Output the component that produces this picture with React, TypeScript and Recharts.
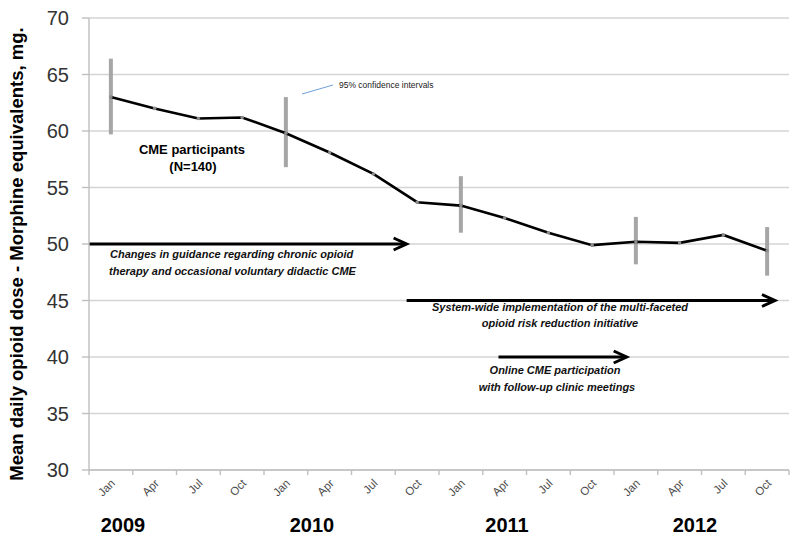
import {
  CartesianGrid,
  ErrorBar,
  Line,
  LineChart,
  ReferenceLine,
  XAxis,
  YAxis,
} from 'recharts'

const monthLabels = ['Jan', 'Apr', 'Jul', 'Oct']
const years = ['2009', '2010', '2011', '2012']
const meanDose = [
  63.0, 62.0, 61.1, 61.2, 59.8, 58.1, 56.2, 53.7, 53.4, 52.3, 51.0, 49.9,
  50.2, 50.1, 50.8, 49.4,
]
// 95% confidence interval bounds, only shown for some quarters
const ciLow = [
  59.7, null, null, null, 56.8, null, null, null, 51.0, null, null, null,
  48.2, null, null, 47.2,
]
const ciHigh = [
  66.4, null, null, null, 63.0, null, null, null, 56.0, null, null, null,
  52.4, null, null, 51.5,
]
const yTicks = [30, 35, 40, 45, 50, 55, 60, 65, 70]

// intervention phases drawn as arrows: start / end on the quarter axis, level in mg
const phaseFrom = [0, 7.26, 9.36]
const phaseTo = [7.26, 15.68, 12.29]
const phaseLevel = [50, 45, 40]

const FONT = '"Liberation Sans", Arial, sans-serif'
const W = 800
const H = 542
const LEFT = 89
const RIGHT = 11
const TOP = 18
const BOTTOM = 72
const BAND = (W - LEFT - RIGHT) / meanDose.length

const data = meanDose.map((dose, i) => ({
  pos: i + 0.5,
  label: `${monthLabels[i % 4]} ${years[Math.floor(i / 4)]}`,
  dose,
  ci:
    ciLow[i] != null && ciHigh[i] != null
      ? [dose - (ciLow[i] as number), (ciHigh[i] as number) - dose]
      : null,
}))

const xTicks = Array.from({ length: meanDose.length + 1 }, (_, i) => i)

function MonthTick({ x, y, payload }: any) {
  const v = payload.value
  if (v >= meanDose.length) return null
  const ax = x + BAND / 2 + 5
  const ay = y + 7
  return (
    <g transform={`translate(${ax} ${ay})`}>
      <text
        x={0}
        y={0}
        transform="rotate(-45)"
        textAnchor="end"
        fontSize={11.5}
        fontFamily={FONT}
        fill="#4d4d4d"
      >
        {monthLabels[v % 4]}
      </text>
    </g>
  )
}

function Arrow({ x1, y1, x2, y2 }: any) {
  return (
    <g>
      <line x1={x1} y1={y1} x2={x2 - 2} y2={y2} stroke="#000" strokeWidth={3} />
      <polyline
        points={`${x2 - 13},${y2 - 6} ${x2},${y2} ${x2 - 13},${y2 + 6}`}
        fill="none"
        stroke="#000"
        strokeWidth={3}
        strokeLinejoin="miter"
      />
    </g>
  )
}

const yearX = [123, 312, 507, 695]

export default function App() {
  const note = {
    fontFamily: FONT,
    fontSize: 11,
    fontWeight: 700,
    fontStyle: 'italic',
    fill: '#111',
  } as const
  return (
    <div style={{ position: 'relative', width: W, height: H, background: '#fff' }}>
      <style>{'body{margin:0}'}</style>
      <LineChart
        width={W}
        height={H}
        data={data}
        margin={{ top: TOP, right: RIGHT, bottom: 0, left: 0 }}
      >
        <CartesianGrid vertical={false} stroke="#d4d4d4" strokeWidth={1.4} />
        <XAxis
          dataKey="pos"
          type="number"
          domain={[0, meanDose.length]}
          ticks={xTicks}
          interval={0}
          height={BOTTOM}
          tickSize={5}
          axisLine={{ stroke: '#bfbfbf', strokeWidth: 1.4 }}
          tickLine={{ stroke: '#bfbfbf', strokeWidth: 1.4 }}
          tick={(p: any) => <MonthTick {...p} />}
        />
        <YAxis
          domain={[30, 70]}
          ticks={yTicks}
          width={LEFT}
          tickSize={7}
          tickMargin={13}
          axisLine={{ stroke: '#bfbfbf', strokeWidth: 1.4 }}
          tickLine={{ stroke: '#bfbfbf', strokeWidth: 1.4 }}
          tick={{ fontSize: 20, fill: '#333', fontFamily: FONT }}
          label={{
            content: () => (
              <text
                transform="translate(23 254) rotate(-90)"
                textAnchor="middle"
                fontSize={18.5}
                fontWeight={700}
                fontFamily={FONT}
                fill="#000"
              >
                Mean daily opioid dose - Morphine equivalents, mg.
              </text>
            ),
          }}
        />
        {phaseFrom.map((from, i) => (
          <ReferenceLine
            key={i}
            segment={[
              { x: from, y: phaseLevel[i] },
              { x: phaseTo[i], y: phaseLevel[i] },
            ]}
            shape={<Arrow />}
          />
        ))}
        <Line
          type="linear"
          dataKey="dose"
          stroke="#000"
          strokeWidth={2.6}
          dot={{ r: 1.8, fill: '#8c8c8c', stroke: 'none' }}
          activeDot={false}
          isAnimationActive={false}
        >
          <ErrorBar
            dataKey="ci"
            width={0}
            stroke="#a6a6a6"
            strokeWidth={4}
            direction="y"
            isAnimationActive={false}
          />
        </Line>
      </LineChart>
      <svg
        width={W}
        height={H}
        style={{ position: 'absolute', left: 0, top: 0, pointerEvents: 'none' }}
      >
        <text x={192} y={154} textAnchor="middle" fontFamily={FONT} fontSize={13} fontWeight={700}>
          CME participants
        </text>
        <text x={193} y={170.5} textAnchor="middle" fontFamily={FONT} fontSize={13} fontWeight={700}>
          (N=140)
        </text>
        <line x1={302} y1={94} x2={333} y2={85} stroke="#6f9fd8" strokeWidth={1} />
        <text x={339} y={87.5} fontFamily={FONT} fontSize={8.5} fill="#222">
          95% confidence intervals
        </text>
        <text x={110} y={257.5} {...note}>
          Changes in guidance regarding chronic opioid
        </text>
        <text x={109} y={274.5} {...note}>
          therapy and occasional voluntary didactic CME
        </text>
        <text x={560} y={310.5} textAnchor="middle" {...note}>
          System-wide implementation of the multi-faceted
        </text>
        <text x={560} y={326.5} textAnchor="middle" {...note}>
          opioid risk reduction initiative
        </text>
        <text x={555} y={374} textAnchor="middle" {...note}>
          Online CME participation
        </text>
        <text x={557} y={391} textAnchor="middle" {...note}>
          with follow-up clinic meetings
        </text>
        {years.map((yr, i) => (
          <text
            key={yr}
            x={yearX[i]}
            y={531.5}
            textAnchor="middle"
            fontFamily={FONT}
            fontSize={20}
            fontWeight={700}
          >
            {yr}
          </text>
        ))}
      </svg>
    </div>
  )
}
